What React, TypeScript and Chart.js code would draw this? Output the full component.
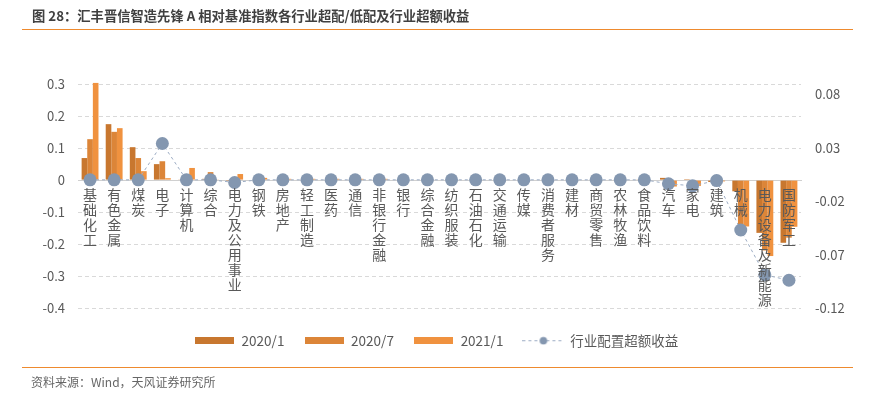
import React, { useEffect, useRef } from "react";
import { Chart, registerables } from "chart.js";

Chart.register(...registerables);

const FONT = '"Noto Sans CJK SC", "Liberation Sans", sans-serif';

const categories = [
  "基础化工", "有色金属", "煤炭", "电子", "计算机", "综合", "电力及公用事业", "钢铁",
  "房地产", "轻工制造", "医药", "通信", "非银行金融", "银行", "综合金融", "纺织服装",
  "石油石化", "交通运输", "传媒", "消费者服务", "建材", "商贸零售", "农林牧渔", "食品饮料",
  "汽车", "家电", "建筑", "机械", "电力设备及新能源", "国防军工",
];

const seriesNames = ["2020/1", "2020/7", "2021/1", "行业配置超额收益"];

const weight2020Jan = [
  0.069, 0.175, 0.103, 0.05, 0.002, 0.004, -0.003, 0,
  0, 0, 0, 0, 0, 0, 0, 0,
  0, 0, 0, 0, 0, 0, 0, 0.002,
  0.007, 0.003, -0.006, -0.035, -0.165, -0.196,
];
const weight2020Jul = [
  0.128, 0.151, 0.069, 0.059, 0.002, 0.025, 0.001, 0,
  0, 0, 0, 0, 0, 0, 0, 0,
  0, 0, 0, 0, 0, 0, 0, 0,
  -0.01, -0.008, -0.005, -0.14, -0.22, -0.18,
];
const weight2021Jan = [
  0.304, 0.1625, 0.028, 0.006, 0.038, 0.002, 0.019, 0.007,
  0.004, 0.004, 0.004, 0.004, 0.004, 0, 0, 0,
  0, 0, 0, 0, 0, 0, 0, 0,
  -0.02, -0.018, -0.004, -0.145, -0.2375, -0.146,
];
const excessReturn = [
  0, 0, 0, 0.034, 0, 0, -0.0025, 0,
  0, 0, 0, 0, 0, 0, 0, 0,
  0, 0, 0, 0, 0, 0, 0, 0,
  -0.0037, -0.0056, -0.0007, -0.047, -0.089, -0.094,
];

const leftTicks = [-0.4, -0.3, -0.2, -0.1, 0, 0.1, 0.2, 0.3];
const leftTickLabels = ["-0.4", "-0.3", "-0.2", "-0.1", "0", "0.1", "0.2", "0.3"];
const rightTicks = [-0.12, -0.07, -0.02, 0.03, 0.08];
const rightTickLabels = ["-0.12", "-0.07", "-0.02", "0.03", "0.08"];

const barColors = ["#C8772F", "#DC8538", "#F0923F"];
const pointColor = "#8497B0";
const lineColor = "#9DADC4";
const textColor = "#595959";

function makeBarSwatch(color: string) {
  const c = document.createElement("canvas");
  c.width = 39;
  c.height = 7;
  const ctx = c.getContext("2d")!;
  ctx.fillStyle = color;
  ctx.fillRect(0, 0, 39, 7);
  return c;
}

function makeLineSwatch() {
  const c = document.createElement("canvas");
  c.width = 42;
  c.height = 9;
  const ctx = c.getContext("2d")!;
  ctx.strokeStyle = lineColor;
  ctx.lineWidth = 1;
  ctx.setLineDash([3, 3]);
  ctx.beginPath();
  ctx.moveTo(0, 4.5);
  ctx.lineTo(42, 4.5);
  ctx.stroke();
  ctx.setLineDash([]);
  ctx.fillStyle = pointColor;
  ctx.beginPath();
  ctx.arc(21, 4.5, 3.8, 0, Math.PI * 2);
  ctx.fill();
  return c;
}

export default function App() {
  const canvasRef = useRef<HTMLCanvasElement | null>(null);

  useEffect(() => {
    if (!canvasRef.current) return;
    const swatches = [
      makeBarSwatch(barColors[0]),
      makeBarSwatch(barColors[1]),
      makeBarSwatch(barColors[2]),
      makeLineSwatch(),
    ];
    const barSeries = [weight2020Jan, weight2020Jul, weight2021Jan];
    const chart = new Chart(canvasRef.current, {
      type: "bar",
      data: {
        labels: categories,
        datasets: [
          ...barSeries.map((d, i) => ({
            type: "bar" as const,
            label: seriesNames[i],
            data: d,
            backgroundColor: barColors[i],
            borderWidth: 0,
            yAxisID: "y",
            categoryPercentage: 0.7,
            barPercentage: 1.0,
          })),
          {
            type: "line" as const,
            label: seriesNames[3],
            data: excessReturn,
            yAxisID: "y1",
            borderColor: lineColor,
            borderWidth: 1,
            borderDash: [3, 3],
            pointRadius: 6.5,
            pointBackgroundColor: pointColor,
            pointBorderWidth: 0,
            fill: false,
            tension: 0,
            order: -1,
          },
        ],
      } as any,
      options: {
        animation: false,
        responsive: true,
        maintainAspectRatio: false,
        layout: { padding: { top: 73, bottom: 40.5, left: 0, right: 0 } },
        plugins: {
          tooltip: { enabled: false },
          title: { display: false },
          legend: {
            display: true,
            position: "bottom",
            title: {
              display: true,
              text: " ",
              padding: 0,
              font: { size: 6, lineHeight: 1 },
            },
            labels: {
              usePointStyle: true,
              pointStyleWidth: 40,
              padding: 20,
              color: textColor,
              font: { family: FONT, size: 13.5 },
              generateLabels: (chart: any) => {
                const items = (Chart.defaults.plugins.legend.labels as any).generateLabels(chart);
                items.sort((a: any, b: any) => a.datasetIndex - b.datasetIndex);
                return items.map((it: any) => ({
                  ...it,
                  pointStyle: swatches[it.datasetIndex],
                  fontColor: textColor,
                }));
              },
            },
          },
        },
        scales: {
          x: {
            type: "category",
            axis: "x",
            position: { y: 0 },
            offset: true,
            grid: { display: false, drawTicks: false },
            border: { display: true, color: "#D0D0D0", width: 1 },
            ticks: {
              z: 1,
              autoSkip: false,
              maxRotation: 0,
              minRotation: 0,
              padding: 7,
              color: textColor,
              font: { family: FONT, size: 14, lineHeight: 1.07 },
              callback: (_v: any, i: number) => categories[i].split(""),
            },
          },
          y: {
            type: "linear",
            position: "left",
            min: -0.4,
            max: 0.335,
            afterBuildTicks: (scale: any) => {
              scale.ticks = leftTicks.map((v) => ({ value: v }));
            },
            afterFit: (scale: any) => {
              scale.width = 78;
            },
            grid: {
              color: "#D9D9D9",
              lineWidth: 1,
              drawTicks: false,
            },
            border: { display: false, dash: [4, 3] },
            ticks: {
              padding: 13,
              color: textColor,
              font: { family: FONT, size: 13 },
              callback: (_v: any, i: number) => leftTickLabels[i],
            },
          },
          y1: {
            type: "linear",
            position: "right",
            min: -0.12,
            max: 0.1,
            afterBuildTicks: (scale: any) => {
              scale.ticks = rightTicks.map((v) => ({ value: v }));
            },
            afterFit: (scale: any) => {
              scale.width = 72;
            },
            grid: { display: false, drawTicks: false },
            border: { display: false },
            ticks: {
              padding: 14,
              color: textColor,
              font: { family: FONT, size: 13 },
              callback: (_v: any, i: number) => rightTickLabels[i],
            },
          },
        },
      } as any,
    });
    return () => chart.destroy();
  }, []);

  return (
    <div
      style={{
        position: "absolute",
        left: 0,
        top: 0,
        width: 873,
        height: 398,
        background: "#fff",
        overflow: "hidden",
      }}
    >
      <div style={{ position: "absolute", left: 0, top: 0, width: 873, height: 398 }}>
        <canvas ref={canvasRef} />
      </div>
      <div
        style={{
          position: "absolute",
          left: 32,
          top: 7,
          fontFamily: FONT,
          fontWeight: 700,
          fontSize: 13.3,
          lineHeight: "18px",
          color: "#404040",
          whiteSpace: "nowrap",
        }}
      >
        图 28：汇丰晋信智造先锋 A 相对基准指数各行业超配/低配及行业超额收益
      </div>
      <div
        style={{
          position: "absolute",
          left: 22,
          top: 29,
          width: 831,
          height: 1,
          background: "#EE8A2E",
        }}
      />
      <div
        style={{
          position: "absolute",
          left: 22,
          top: 367,
          width: 831,
          height: 1,
          background: "#EE8A2E",
        }}
      />
      <div
        style={{
          position: "absolute",
          left: 31,
          top: 373,
          fontFamily: FONT,
          fontSize: 12,
          lineHeight: "18px",
          color: "#666666",
          whiteSpace: "nowrap",
        }}
      >
        资料来源：Wind，天风证券研究所
      </div>
    </div>
  );
}
